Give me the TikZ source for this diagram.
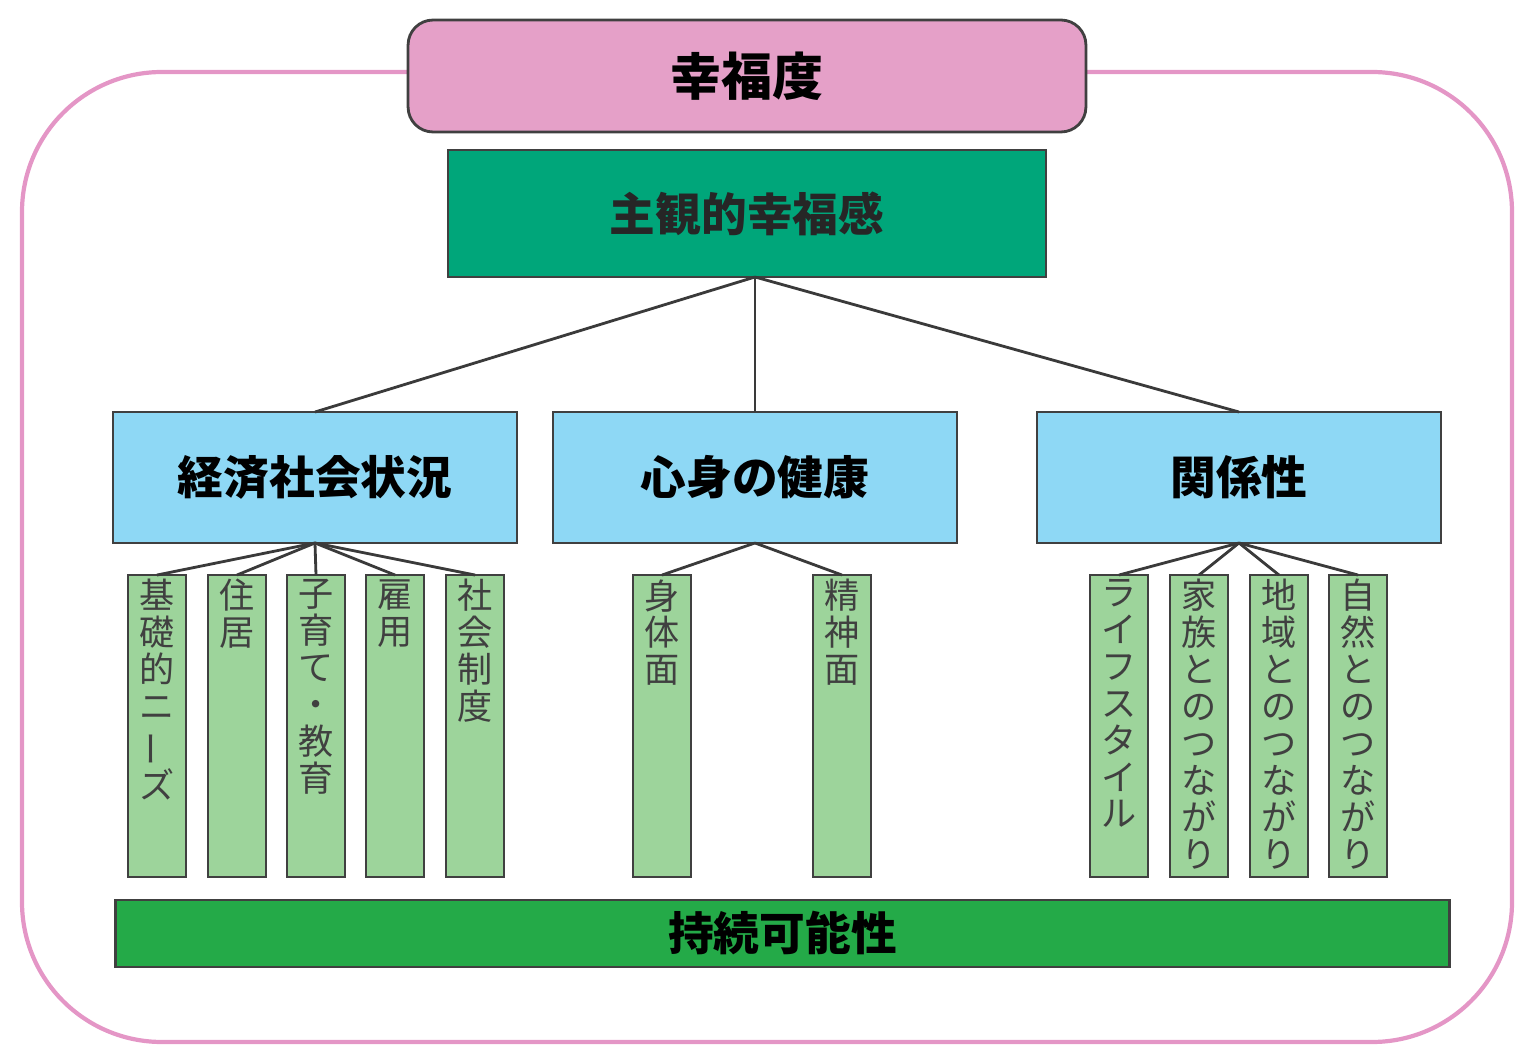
\documentclass[tikz,border=0pt]{standalone}
\usepackage{fontspec}
\newfontfamily\cjk{Noto Sans CJK JP}
\definecolor{framepink}{RGB}{228,150,198}
\definecolor{toppink}{RGB}{229,160,200}
\definecolor{subjgreen}{RGB}{0,166,122}
\definecolor{catblue}{RGB}{142,216,245}
\definecolor{leafgreen}{RGB}{157,212,155}
\definecolor{susgreen}{RGB}{36,170,72}
\definecolor{edge}{RGB}{64,64,64}
\newcommand{\vbar}{\rotatebox[origin=c]{90}{ー}}
\tikzset{
  boxbase/.style={draw=edge, line width=1.6pt, inner sep=0pt, outer sep=0pt},
  topbox/.style={boxbase, fill=toppink, rounded corners=0.5cm, minimum width=13.56cm, minimum height=2.24cm,
     font=\cjk\bfseries\fontsize{29}{32}\selectfont},
  subjbox/.style={boxbase, fill=subjgreen, minimum width=11.96cm, minimum height=2.54cm,
     font=\cjk\bfseries\fontsize{26}{30}\selectfont, text=black!85},
  catbox/.style={boxbase, fill=catblue, minimum width=8.08cm, minimum height=2.62cm,
     font=\cjk\bfseries\fontsize{26}{30}\selectfont},
  leafbox/.style={boxbase, fill=leafgreen, minimum width=1.16cm, minimum height=6.04cm},
  leaftext/.style={anchor=north, inner sep=0pt, align=center, text=black!75,
     font=\cjk\fontsize{20}{21}\selectfont},
  susbox/.style={boxbase, fill=susgreen, minimum width=26.7cm, minimum height=1.34cm,
     font=\cjk\bfseries\fontsize{26}{30}\selectfont},
  conn/.style={draw=edge!90!black, line width=1.6pt},
}
\begin{document}
\begin{tikzpicture}[x=0.02cm,y=-0.02cm]
\useasboundingbox (0,0) rectangle (1516,1047);
% outer frame
\draw[framepink, line width=2.4pt, rounded corners=2.8cm] (22,72) rectangle (1512,1042);
% top boxes
\node[topbox] (top) at (747,76) {幸福度};
\node[subjbox] (subj) at (747,213.5) {主観的幸福感};
% categories
\node[catbox] (c1) at (315,477.5) {経済社会状況};
\node[catbox] (c2) at (755,477.5) {心身の健康};
\node[catbox] (c3) at (1239,477.5) {関係性};
\coordinate (hub) at (c2.north |- subj.south);
\draw[conn] (hub) -- (c1.north);
\draw[conn] (hub) -- (c2.north);
\draw[conn] (hub) -- (c3.north);
% leaves group 1
\node[leafbox] (l1) at (157,726) {};
\node[leafbox] (l2) at (237,726) {};
\node[leafbox] (l3) at (316,726) {};
\node[leafbox] (l4) at (395,726) {};
\node[leafbox] (l5) at (475,726) {};
% group 2
\node[leafbox] (m1) at (662,726) {};
\node[leafbox] (m2) at (842,726) {};
% group 3
\node[leafbox] (r1) at (1119,726) {};
\node[leafbox] (r2) at (1199,726) {};
\node[leafbox] (r3) at (1279,726) {};
\node[leafbox] (r4) at (1358,726) {};
\foreach \n in {l1,l2,l3,l4,l5} \draw[conn] (c1.south) -- (\n.north);
\foreach \n in {m1,m2} \draw[conn] (c2.south) -- (\n.north);
\foreach \n in {r1,r2,r3,r4} \draw[conn] (c3.south) -- (\n.north);
% leaf texts
\node[leaftext] (t1) at ([yshift=-0.08cm]l1.north) {基\\礎\\的\\ニ\\\vbar\\ズ};
\node[leaftext] (t2) at ([yshift=-0.08cm]l2.north) {住\\居};
\node[leaftext] (t3) at ([yshift=-0.08cm]l3.north) {子\\育\\て\\・\\教\\育};
\node[leaftext] (t4) at ([yshift=-0.08cm]l4.north) {雇\\用};
\node[leaftext] (t5) at ([yshift=-0.08cm]l5.north) {社\\会\\制\\度};
\node[leaftext] (t6) at ([yshift=-0.08cm]m1.north) {身\\体\\面};
\node[leaftext] (t7) at ([yshift=-0.08cm]m2.north) {精\\神\\面};
\node[leaftext] (t8) at ([yshift=-0.08cm]r1.north) {ラ\\イ\\フ\\ス\\タ\\イ\\ル};
\node[leaftext] (t9) at ([yshift=-0.08cm]r2.north) {家\\族\\と\\の\\つ\\な\\が\\り};
\node[leaftext] (t10) at ([yshift=-0.08cm]r3.north) {地\\域\\と\\の\\つ\\な\\が\\り};
\node[leaftext] (t11) at ([yshift=-0.08cm]r4.north) {自\\然\\と\\の\\つ\\な\\が\\り};
% sustainability bar
\node[susbox] (sus) at (782.5,933.5) {持続可能性};
\end{tikzpicture}
\end{document}
